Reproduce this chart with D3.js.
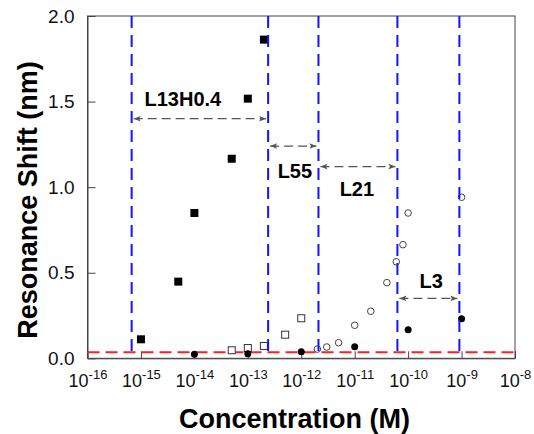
<!DOCTYPE html>
<meta charset="utf-8">
<style>
    body { margin: 0; background: #fff; }
    svg { font-family: "Liberation Sans", Arial, sans-serif; }
    .axis path, .axis line { stroke: #444; }
    .axis text { fill: #111; }
</style>
<svg width="534" height="434"></svg>
<script src="https://cdnjs.cloudflare.com/ajax/libs/d3/7.8.5/d3.min.js"></script>
<script>

    // concentration (M) and resonance shift (nm) for each peptide
    var l13Conc = [1e-15, 5e-15, 1e-14, 5e-14, 1e-13, 2e-13];
    var l13Shift = [0.111, 0.448, 0.849, 1.166, 1.517, 1.862];

    var l55Conc = [5e-14, 1e-13, 2e-13, 5e-13, 1e-12];
    var l55Shift = [0.047, 0.060, 0.072, 0.138, 0.234];

    var l21Conc = [2e-12, 3e-12, 5e-12, 1e-11, 2e-11, 4e-11, 6e-11, 8e-11, 1e-10, 1e-9];
    var l21Shift = [0.054, 0.066, 0.091, 0.193, 0.275, 0.442, 0.564, 0.664, 0.849, 0.941];

    var l3Conc = [1e-14, 1e-13, 1e-12, 1e-11, 1e-10, 1e-9];
    var l3Shift = [0.023, 0.027, 0.039, 0.068, 0.167, 0.231];

    // detection limits (blue dashed lines) and noise floor (red dashed line)
    var limits = [6.7e-16, 2.4e-13, 2.1e-12, 6.3e-11, 9.1e-10];
    var noiseFloor = 0.035;

    // range arrows between limits, with their labels
    var rangeNames = ["L13H0.4", "L55", "L21", "L3"];
    var rangeShift = [1.40, 1.24, 1.12, 0.35];
    var labelConc = [6.1e-15, 7.6e-13, 1.1e-11, 2.7e-10];
    var labelShift = [1.474, 1.052, 0.95, 0.411];

    var xTicks = [1e-16, 1e-15, 1e-14, 1e-13, 1e-12, 1e-11, 1e-10, 1e-9, 1e-8];
    var yTicks = [0, 0.5, 1.0, 1.5, 2.0];

    var svg = d3.select("svg"),
        plotLeft = 87.5, plotRight = 515, plotTop = 16, plotBottom = 358.3;

    var x = d3.scaleLog().domain([1e-16, 1e-8]).range([plotLeft, plotRight]);
    var y = d3.scaleLinear().domain([0, 2]).range([plotBottom, plotTop]);

    // frame
    svg.append("rect")
        .attr("x", plotLeft).attr("y", plotTop)
        .attr("width", plotRight - plotLeft).attr("height", plotBottom - plotTop)
        .attr("fill", "none").attr("stroke", "#444");

    var yAxis = svg.append("g")
        .attr("class", "axis")
        .attr("transform", "translate(" + plotLeft + ",0)")
        .call(d3.axisLeft(y).tickValues(yTicks).tickFormat(d3.format(".1f"))
            .tickSizeInner(-8).tickSizeOuter(0).tickPadding(13));
    yAxis.selectAll("text").style("font-size", "19px");

    var xAxis = svg.append("g")
        .attr("class", "axis")
        .attr("transform", "translate(0," + plotBottom + ")")
        .call(d3.axisBottom(x).tickValues(xTicks).tickSizeInner(-7).tickSizeOuter(0));
    xAxis.selectAll("text")
        .attr("y", 28.4).attr("dy", 0)
        .style("font-size", "18px")
        .text(null)
        .each(function (d) {
            var t = d3.select(this);
            t.append("tspan").text("10");
            t.append("tspan").attr("dy", -7.7).style("font-size", "13px")
                .text("-" + Math.round(-Math.log10(d)));
        });

    // noise floor
    svg.append("line")
        .attr("x1", plotLeft).attr("x2", plotRight)
        .attr("y1", y(noiseFloor)).attr("y2", y(noiseFloor))
        .attr("stroke", "#ff2020").attr("stroke-width", 2)
        .attr("stroke-dasharray", "12,6");

    // markers
    svg.selectAll(".l13").data(l13Conc).enter().append("rect")
        .attr("x", function (d) { return x(d) - 4; })
        .attr("y", function (d, i) { return y(l13Shift[i]) - 4; })
        .attr("width", 8).attr("height", 8)
        .attr("fill", "#000");

    svg.selectAll(".l55").data(l55Conc).enter().append("rect")
        .attr("x", function (d) { return x(d) - 3.5; })
        .attr("y", function (d, i) { return y(l55Shift[i]) - 3.5; })
        .attr("width", 7).attr("height", 7)
        .attr("fill", "#fff").attr("stroke", "#333").attr("stroke-width", 1);

    svg.selectAll(".l21").data(l21Conc).enter().append("circle")
        .attr("cx", function (d) { return x(d); })
        .attr("cy", function (d, i) { return y(l21Shift[i]); })
        .attr("r", 3.3)
        .attr("fill", "#fff").attr("stroke", "#444").attr("stroke-width", 1);

    svg.selectAll(".l3").data(l3Conc).enter().append("circle")
        .attr("cx", function (d) { return x(d); })
        .attr("cy", function (d, i) { return y(l3Shift[i]); })
        .attr("r", 3.5)
        .attr("fill", "#000");

    // limit lines
    svg.selectAll(".limit").data(limits).enter().append("line")
        .attr("x1", function (d) { return x(d); })
        .attr("x2", function (d) { return x(d); })
        .attr("y1", plotTop).attr("y2", plotBottom)
        .attr("stroke", "#1414ff").attr("stroke-width", 2)
        .attr("stroke-dasharray", "12,7");

    // arrows
    var defs = svg.append("defs");
    defs.append("marker")
        .attr("id", "arrowhead")
        .attr("viewBox", "-8 -4 9 8")
        .attr("markerWidth", 9).attr("markerHeight", 8)
        .attr("markerUnits", "userSpaceOnUse")
        .attr("orient", "auto-start-reverse")
        .append("path")
        .attr("d", "M-7,-2.8L0,0L-7,2.8L-5.5,0Z")
        .attr("fill", "#555");

    svg.selectAll(".range").data(rangeNames).enter().append("line")
        .attr("x1", function (d, i) { return x(limits[i]) + 2; })
        .attr("x2", function (d, i) { return x(limits[i + 1]) - 2; })
        .attr("y1", function (d, i) { return y(rangeShift[i]); })
        .attr("y2", function (d, i) { return y(rangeShift[i]); })
        .attr("stroke", "#555").attr("stroke-width", 1.3)
        .attr("stroke-dasharray", "9,5")
        .attr("marker-start", "url(#arrowhead)")
        .attr("marker-end", "url(#arrowhead)");

    svg.selectAll(".rangeLabel").data(rangeNames).enter().append("text")
        .attr("x", function (d, i) { return x(labelConc[i]); })
        .attr("y", function (d, i) { return y(labelShift[i]); })
        .attr("text-anchor", "middle")
        .style("font-size", "20px").style("font-weight", "bold")
        .text(function (d) { return d; });

    // axis titles
    svg.append("text")
        .attr("x", 294.5).attr("y", 428)
        .attr("text-anchor", "middle")
        .style("font-size", "27px").style("font-weight", "bold")
        .text("Concentration (M)");

    svg.append("text")
        .attr("transform", "translate(36.5,200) rotate(-90)")
        .attr("text-anchor", "middle")
        .style("font-size", "27px").style("font-weight", "bold")
        .text("Resonance Shift (nm)");

</script>
